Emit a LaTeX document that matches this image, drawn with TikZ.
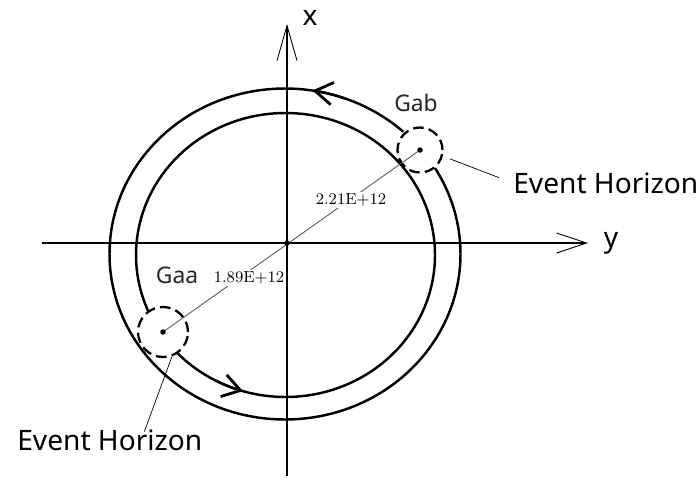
\documentclass[tikz,border=0pt]{standalone}
\usepackage{fontspec}
\newfontfamily\labelfont{Noto Sans}
\usetikzlibrary{arrows.meta}

\begin{document}
\begin{tikzpicture}[
	% Style for the two coordinate axes
	axis/.style={
		line width=0.6pt,
		-{Straight Barb[length=6mm, width=4mm, line width=0.5pt]}
	},
	% Style for the orbit rings
	ring/.style={
		line width=1.4pt
	},
	ringarrow/.style={
		line width=1.4pt,
		-{Straight Barb[length=3.5mm, width=4.5mm, line width=1.6pt]}
	},
	% Style for the dashed event horizons
	horizon/.style={
		circle,
		draw=black,
		line width=1.3pt,
		dash pattern=on 6pt off 3pt,
		inner sep=0pt
	},
	% Style for the text labels
	galaxy/.style={
		font=\labelfont\fontsize{13}{15}\selectfont,
		text=black!85
	},
	axislabel/.style={
		font=\labelfont\fontsize{16}{18}\selectfont
	},
	eh/.style={
		font=\labelfont\fontsize{16}{18}\selectfont,
		inner sep=0pt,
		anchor=west
	},
	dist/.style={
		font=\fontsize{9.2}{11}\selectfont,
		fill=white,
		inner sep=1pt
	},
	leader/.style={
		line width=0.4pt
	}
	]
	\useasboundingbox (-5.74,-4.72) rectangle (8.24,4.86);
	
	% Axes
	\coordinate (O) at (0,0);
	\coordinate (yL) at (-4.9,0);
	\coordinate (yR) at (6.02,0);
	\coordinate (xB) at (0,-4.66);
	\coordinate (xT) at (0,4.38);
	\draw[axis] (yL) -- (yR);
	\draw[axis, -{Straight Barb[length=7mm, width=4mm, line width=0.5pt]}] (xB) -- (xT);
	\node[axislabel] (xlab) at (0.46,4.5) {x};
	\node[axislabel] (ylab) at (6.48,0) {y};
	
	% Centres of the two rings
	\coordinate (Oc) at (-0.04,-0.22);
	\coordinate (Ic) at (-0.03,-0.24);
	
	% Outer ring, open where Gab sits on it
	\draw[ring] (Oc) ++(47.6:3.51 and 3.31) arc[start angle=47.6, end angle=391.3, x radius=3.51, y radius=3.31];
	% Inner ring, open where Gaa sits on it
	\draw[ring] (Ic) ++(223.8:2.99 and 2.84) arc[start angle=223.8, end angle=563.1, x radius=2.99, y radius=2.84];
	
	% Direction of motion
	\draw[ringarrow] (Oc) ++(70:3.51 and 3.31) arc[start angle=70, end angle=81, x radius=3.51, y radius=3.31];
	\draw[ringarrow] (Ic) ++(242:2.99 and 2.84) arc[start angle=242, end angle=253.5, x radius=2.99, y radius=2.84];
	
	% Event horizons
	\node[horizon, minimum size=0.9cm] (Gab) at (2.66,1.86) {};
	\node[horizon, minimum size=1cm] (Gaa) at (-2.48,-1.78) {};
	
	% Line between the two centres
	\draw[line width=0.5pt, black!65] (Gaa.center) -- (Gab.center);
	\node[dist] (dGab) at (1.28,0.86) {2.21E+12};
	\node[dist] (dGaa) at (-0.76,-0.7) {1.89E+12};
	
	\foreach \c in {O, Gab.center, Gaa.center}{
		\fill (\c) circle (0.055);
	}
	
	\node[galaxy] (lGab) at (2.58,2.8) {Gab};
	\node[galaxy] (lGaa) at (-2.2,-0.64) {Gaa};
	
	\node[eh] (EHr) at (4.52,1.2) {Event Horizon};
	\node[eh] (EHl) at (-5.4,-3.94) {Event Horizon};
	\draw[leader, shorten <=1.5mm, shorten >=3mm] (Gab.-15) -- (EHr.west);
	\draw[leader] (Gaa.-70) -- ([xshift=6.9mm, yshift=-0.5mm]EHl.north);
	
\end{tikzpicture}
\end{document}
